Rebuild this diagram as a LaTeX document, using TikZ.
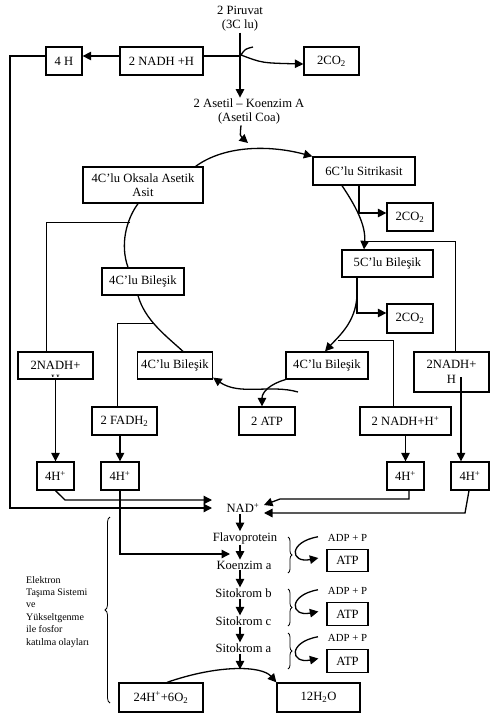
\documentclass[tikz,border=0pt]{standalone}
\usepackage{fontspec}
\setmainfont{Liberation Serif}
\usetikzlibrary{arrows.meta,decorations.pathreplacing,calc}
\begin{document}
\begin{tikzpicture}[x=1pt,y=-1pt,
  box/.style={draw,line width=1.3pt,inner sep=0pt,align=center,font=\fontsize{12.6}{14.5}\selectfont},
  lbl/.style={inner sep=1pt,align=center,font=\fontsize{12.6}{14}\selectfont},
  arr/.style={line width=1.3pt,-{Triangle[length=8.5pt,width=8.5pt]}},
  ln/.style={line width=1.3pt},
  thinln/.style={line width=0.9pt},
  small/.style={inner sep=0pt,font=\fontsize{10.8}{12}\selectfont},
  brc/.style={line width=0.8pt,decorate,decoration={brace,amplitude=4pt}}
]
\useasboundingbox (0,0) rectangle (500,722);

% ---------- top ----------
\node[lbl] (piruvat) at (240,19) {2 Piruvat\\(3C lu)};
\node[box,minimum width=36pt,minimum height=28pt] (h4top) at (64,61) {4 H};
\node[box,minimum width=83pt,minimum height=28pt] (nadhtop) at (161.5,61) {2 NADH +H};
\node[box,minimum width=55pt,minimum height=28pt] (co2a) at (331.5,61) {2CO\textsubscript{2}};
\node[lbl] (asetil) at (249,111.5) {2 Asetil – Koenzim A\\(Asetil Coa)};
\coordinate (j1) at (240,56);
\coordinate (lc) at (10,56);

\draw[arr] (piruvat.south -| j1) -- (asetil.north -| j1);
\draw[ln] (j1) -- (nadhtop.east |- j1);
\draw[arr] (nadhtop.west |- j1) -- (h4top.east |- j1);
\draw[arr] (253,47) .. controls (245,49) .. (241,55) .. controls (262,63) .. (co2a.west |- 0,64);

% ---------- cycle ----------
\node[box,minimum width=120pt,minimum height=36pt] (oksala) at (143,185) {4C’lu Oksala Asetik\\Asit};
\node[box,minimum width=102pt,minimum height=28pt] (sitrik) at (364,171) {6C’lu Sitrikasit};
\node[box,minimum width=46pt,minimum height=28pt] (co2b) at (410,217) {2CO\textsubscript{2}};
\node[box,minimum width=91pt,minimum height=27pt] (c5) at (387.5,263.5) {5C’lu Bileşik};
\node[box,minimum width=82pt,minimum height=27pt] (c4a) at (143,281.5) {4C’lu Bileşik};
\node[box,minimum width=46pt,minimum height=29pt] (co2c) at (410,318.5) {2CO\textsubscript{2}};
\node[box,minimum width=75pt,minimum height=27pt] (c4b) at (175,365.5) {4C’lu Bileşik};
\node[box,minimum width=82pt,minimum height=27pt] (c4c) at (327,365.5) {4C’lu Bileşik};
\node[box,minimum width=75pt,minimum height=27pt] (nadhL) at (55.5,365.5) {};
\begin{scope}
  \clip (18,352) rectangle (93,376.5);
  \node[lbl] (nadhLtxt) at (55.5,372) {2NADH+\\H};
\end{scope}
\node[box,minimum width=75pt,minimum height=40pt] (nadhR) at (451.5,372) {2NADH+\\H};
\node[box,minimum width=65pt,minimum height=28pt] (fadh) at (124.5,421) {2 FADH\textsubscript{2}};
\node[box,minimum width=56pt,minimum height=28pt] (atp2) at (267,421) {2 ATP};
\node[box,minimum width=91pt,minimum height=28pt] (nadhH) at (405.5,421) {2 NADH+H\textsuperscript{+}};
\node[box,minimum width=37pt,minimum height=28pt] (h4a) at (55.5,476) {4H\textsuperscript{+}};
\node[box,minimum width=38pt,minimum height=28pt] (h4b) at (120,476) {4H\textsuperscript{+}};
\node[box,minimum width=37pt,minimum height=28pt] (h4c) at (405.5,476) {4H\textsuperscript{+}};
\node[box,minimum width=38pt,minimum height=28pt] (h4d) at (470,476) {4H\textsuperscript{+}};

% acetyl into cycle
\draw[arr] (asetil.south -| 241,0) .. controls (240,136) .. (248,143);
% oksala -> sitrik
\draw[arr] (oksala.north east) ++(-8,0) .. controls (225,145) and (270,145) .. (sitrik.north west);
% sitrik -> 5C, CO2
\draw[arr] ([xshift=-22pt]sitrik.south) .. controls (355,205) and (366,225) .. ([xshift=-23.5pt]c5.north);
\draw[arr] ([xshift=-5pt]sitrik.south) -- (359,213) -- (co2b.west |- 0,213);
\draw[thinln] (364,241) -- (455,241) -- (nadhR.north -| 455,0);
% 5C -> 4C, CO2
\draw[arr] ([xshift=-30.5pt]c5.south) -- (357,313) -- (co2c.west |- 0,313);
\draw[arr] (357,290) .. controls (358,320) and (340,335) .. ([xshift=-2pt]c4c.north);
\draw[thinln] (338,340) -- (393,340) -- (nadhH.north -| 393,0);
% 4C right -> 4C left, ATP
\draw[arr] (c4c.south west) .. controls (270,384) and (262,392) .. ([xshift=-5pt]atp2.north);
\draw[arr] (298,392) .. controls (270,384) and (240,396) .. ([yshift=2pt]c4b.south east);
% oksala -> 4C upper-left
\draw[ln] ([xshift=-5pt]oksala.south) .. controls (126,220) and (120,245) .. ([xshift=-15pt]c4a.north);
\draw[thinln] (130,222) -- (46,222) -- (nadhL.north -| 46,0);
% 4C upper-left -> 4C lower-left
\draw[ln] ([xshift=-5pt]c4a.south) .. controls (145,320) and (165,335) .. ([xshift=8pt]c4b.north);
\draw[thinln] (154,323) -- (117,323) -- (fadh.north -| 117,0);

% to 4H boxes
\draw[arr] (nadhL.south) -- (h4a.north);
\draw[arr] (fadh.south -| h4b.north) -- (h4b.north);
\draw[arr] (nadhH.south) -- (h4c.north);
\draw[arr] (461,377) -- (h4d.north -| 461,0);

% ---------- electron transport ----------
\node[lbl] (nad) at (243,508) {NAD\textsuperscript{+}};
\node[lbl] (flavo) at (245,538) {Flavoprotein};
\node[lbl] (koenzim) at (244,565) {Koenzim a};
\node[lbl] (sitb) at (243.5,593) {Sitokrom b};
\node[lbl] (sitc) at (243.5,621) {Sitokrom c};
\node[lbl] (sita) at (243.5,648) {Sitokrom a};
\coordinate (cx) at (240,0);
\coordinate (nadL1) at (212,500);
\coordinate (nadL2) at (212,508);
\coordinate (nadR1) at (264,505);
\coordinate (nadR2) at (264,513);
\coordinate (kz) at (230,554);

\draw[arr] (h4a.south) -- (65,500) -- (nadL1);
\draw[arr] (h4top.west |- j1) -- (lc) -- (10,508) -- (nadL2);
\draw[arr] ([xshift=3.5pt]h4c.south) -- (409,499) -- (280,499) -- (nadR1);
\draw[arr] ([xshift=-1pt]h4d.south) -- (465,513) -- (nadR2);
\draw[arr] (h4b.south) -- (120,554) -- (kz);

\draw[arr] (nad.south -| cx) -- (flavo.north -| cx);
\draw[arr] (flavo.south -| cx) -- (koenzim.north -| cx);
\draw[arr] (koenzim.south -| cx) -- (sitb.north -| cx);
\draw[arr] (sitb.south -| cx) -- (sitc.north -| cx);
\draw[arr] (sitc.south -| cx) -- (sita.north -| cx);

\node[box,minimum width=84pt,minimum height=29pt] (h24) at (161,697.5) {24H\textsuperscript{+}+6O\textsubscript{2}};
\node[box,minimum width=83pt,minimum height=29pt] (h2o) at (318.5,697.5) {12H\textsubscript{2}O};
\draw[arr] ([xshift=6pt]h24.north) .. controls (220,664) and (262,666) .. (h2o.north west) coordinate[pos=0.5] (peak);
\draw[arr] (sita.south -| cx) -- (cx |- peak);

% ATP side
\foreach \i/\ya/\yb/\ytop/\ybot in {1/538/560.5/537/573, 2/591/614/589/626, 3/638/661/633/669}{
  \node[small] (adp\i) at (347.5,\ya) {ADP + P};
  \node[box,minimum width=41pt,minimum height=22.5pt] (atp\i) at (347.5,\yb) {ATP};
  \draw[brc] (288,\ytop) -- (288,\ybot);
  \draw[arr] ([xshift=-29.5pt,yshift=5pt]adp\i.south) .. controls (288,\ya+4) and (290,\yb+3) .. ([xshift=-8pt,yshift=2.5pt]atp\i.west);
}

% big brace and label
\draw[line width=0.8pt,decorate,decoration={brace,amplitude=5pt}] (110,703) -- (110,517);
\node[anchor=north west,inner sep=0pt,align=left,font=\fontsize{10}{12.4}\selectfont] (ets) at (26,576) {Elektron\\Taşıma Sistemi\\ve\\Yükseltgenme\\ile fosfor\\katılma olayları};
\end{tikzpicture}
\end{document}
